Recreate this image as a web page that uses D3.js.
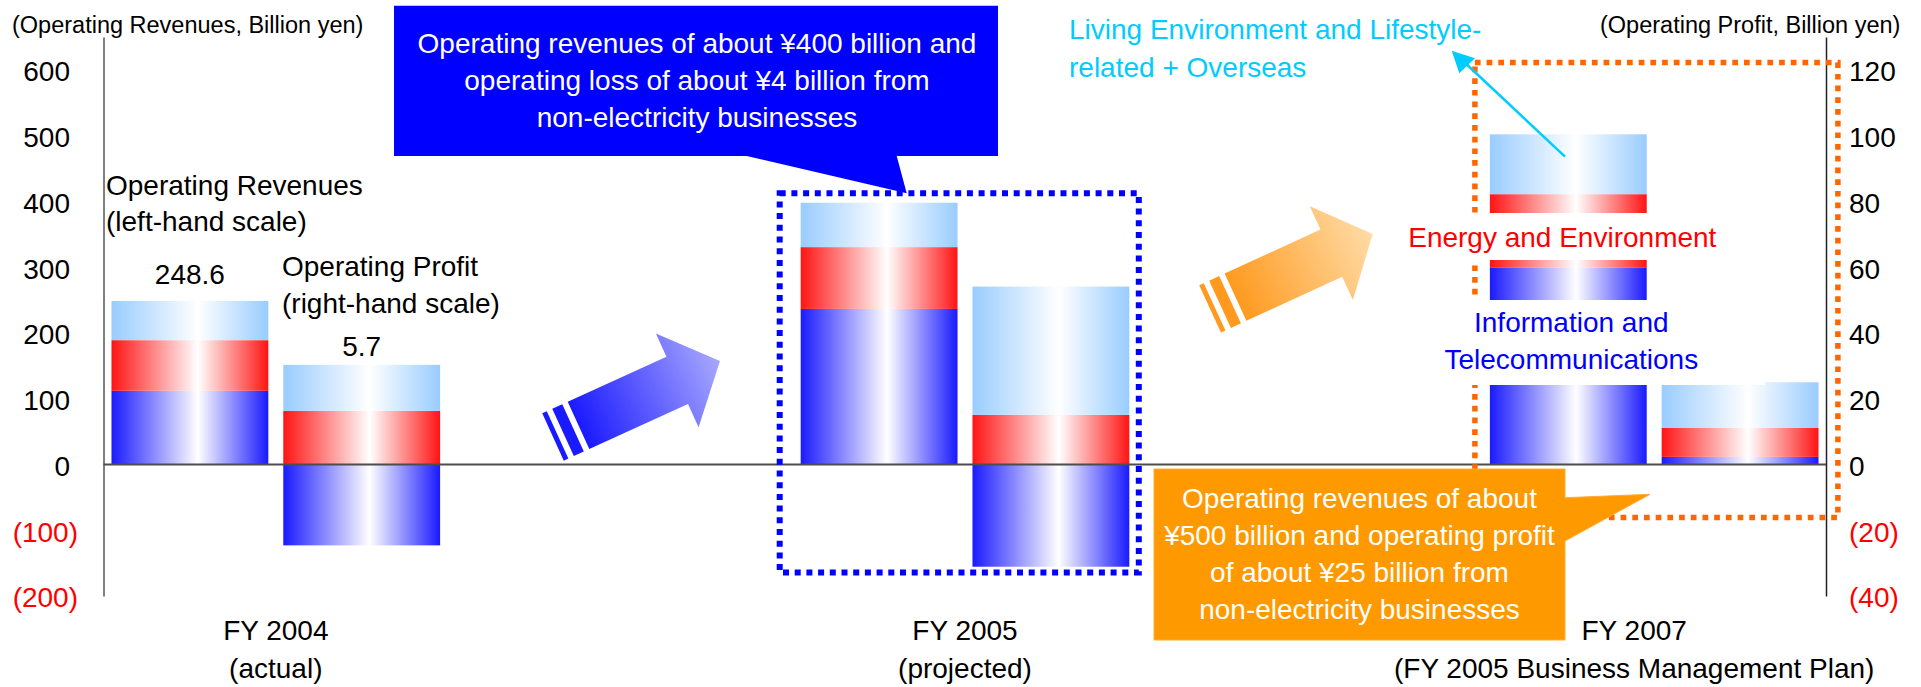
<!DOCTYPE html>
<html>
<head>
<meta charset="utf-8">
<script src="https://cdn.jsdelivr.net/npm/d3@7"></script>
<style>
body { margin: 0; background: #fff; }
svg { display: block; font-family: "Liberation Sans", Arial, sans-serif; }
</style>
</head>
<body>
<svg id="chart" width="1921" height="687"></svg>
<script>
// x slots: the empty ones keep the gaps between the three periods
var periods = ["FY2004", "gap1", "FY2005", "gap2", "FY2007"];
var periodLine1 = ["FY 2004", "", "FY 2005", "", "FY 2007"];
var periodLine2 = ["(actual)", "", "(projected)", "", "(FY 2005 Business Management Plan)"];
var groups = ["FY2004", "FY2005", "FY2007"];

// operating revenues, billion yen (left-hand scale)
var revInfo = [112.0, 236.5, 299.0];
var revEnergy = [77.0, 94.0, 112.0];
var revLiving = [59.6, 67.5, 91.0];

// operating profit, billion yen (right-hand scale)
var profInfo = [-24.6, -31.1, 2.3];
var profEnergy = [16.3, 15.1, 8.8];
var profLiving = [14.0, 39.0, 13.9];

var leftTicks = [-200, -100, 0, 100, 200, 300, 400, 500, 600];
var rightTicks = [-40, -20, 0, 20, 40, 60, 80, 100, 120];

var svg = d3.select("#chart");
var defs = svg.append("defs");

var x = d3.scaleBand().domain(periods).range([103.5, 1826.5]);
var xs = d3.scaleBand().domain(["rev", "prof"])
    .range([0, x.bandwidth()])
    .paddingInner(0.087)
    .paddingOuter(0.0465);
var yL = d3.scaleLinear().domain([-200, 650]).range([596, 37]);
var yR = d3.scaleLinear().domain([-40, 130]).range([596, 37]);

var keys = ["info", "energy", "living"];
var segColor = { info: "#1a1aff", energy: "#ff1414", living: "#99ccff" };

keys.forEach(function (k) {
    var gr = defs.append("linearGradient").attr("id", "g_" + k)
        .attr("x1", 0).attr("x2", 1).attr("y1", 0).attr("y2", 0);
    gr.append("stop").attr("offset", 0).attr("stop-color", segColor[k]);
    gr.append("stop").attr("offset", 0.55).attr("stop-color", "#fff");
    gr.append("stop").attr("offset", 1).attr("stop-color", segColor[k]);
});

var revRows = groups.map(function (g, i) {
    return { period: g, info: revInfo[i], energy: revEnergy[i], living: revLiving[i] };
});
var profRows = groups.map(function (g, i) {
    return { period: g, info: profInfo[i], energy: profEnergy[i], living: profLiving[i] };
});

var stack = d3.stack().keys(keys).offset(d3.stackOffsetDiverging);

function drawStack(rows, series, yScale) {
    svg.append("g")
        .selectAll("g")
        .data(stack(rows))
        .enter().append("g")
        .attr("fill", function (d) { return "url(#g_" + d.key + ")"; })
        .selectAll("rect")
        .data(function (d) { return d; })
        .enter().append("rect")
        .attr("x", function (d) { return x(d.data.period) + xs(series); })
        .attr("y", function (d) { return yScale(Math.max(d[0], d[1])); })
        .attr("width", xs.bandwidth())
        .attr("height", function (d) { return Math.abs(yScale(d[0]) - yScale(d[1])); });
}
drawStack(revRows, "rev", yL);
drawStack(profRows, "prof", yR);

// totals above the FY2004 bars
var fmt1 = d3.format(".1f");
var revTotal = revInfo[0] + revEnergy[0] + revLiving[0];
var profTop = profEnergy[0] + profLiving[0];
var profTotal = profInfo[0] + profEnergy[0] + profLiving[0];
svg.append("text")
    .attr("x", x("FY2004") + xs("rev") + xs.bandwidth() / 2)
    .attr("y", yL(revTotal) - 17)
    .attr("text-anchor", "middle").attr("font-size", 28)
    .text(fmt1(revTotal));
svg.append("text")
    .attr("x", x("FY2004") + xs("prof") + xs.bandwidth() / 2)
    .attr("y", yR(profTop) - 9)
    .attr("text-anchor", "middle").attr("font-size", 28)
    .text(fmt1(profTotal));

// axes
function tickText(v) { return v < 0 ? "(" + Math.abs(v) + ")" : String(v); }

var left = svg.append("g")
    .attr("transform", "translate(" + x.range()[0] + ",0)")
    .call(d3.axisLeft(yL).tickValues(leftTicks).tickSize(0).tickFormat(tickText));
left.select(".domain").attr("stroke", "#555").attr("stroke-width", 1.5);
left.selectAll("text")
    .attr("font-size", 28).attr("font-family", null)
    .attr("dy", "0.39em")
    .attr("x", function (d) { return d < 0 ? -25.5 : -33.5; })
    .attr("fill", function (d) { return d < 0 ? "#ff0000" : "#000"; });

var right = svg.append("g")
    .attr("transform", "translate(1826,0)")
    .call(d3.axisRight(yR).tickValues(rightTicks).tickSize(0).tickFormat(tickText));
right.select(".domain").attr("stroke", "#222").attr("stroke-width", 1.5);
right.selectAll("text")
    .attr("font-size", 28).attr("font-family", null)
    .attr("dy", "0.39em")
    .attr("x", 23)
    .attr("fill", function (d) { return d < 0 ? "#ff0000" : "#000"; });

svg.append("line")
    .attr("x1", x.range()[0]).attr("x2", 1826)
    .attr("y1", yL(0)).attr("y2", yL(0))
    .attr("stroke", "#4d4d4d").attr("stroke-width", 2);

svg.append("text").attr("x", 12).attr("y", 33).attr("font-size", 23.5)
    .text("(Operating Revenues, Billion yen)");
svg.append("text").attr("x", 1600).attr("y", 33).attr("font-size", 23.5)
    .text("(Operating Profit, Billion yen)");

// period labels
var cat = svg.append("g").attr("font-size", 28).attr("text-anchor", "middle");
periods.forEach(function (p, i) {
    if (!periodLine1[i]) return;
    var cx = x(p) + x.bandwidth() / 2 + (periodLine2[i].length > 20 ? -20 : 0);
    cat.append("text").attr("x", cx).attr("y", 640).text(periodLine1[i]);
    cat.append("text").attr("x", cx).attr("y", 678).text(periodLine2[i]);
});

// series notes
var note = svg.append("g").attr("font-size", 28);
note.append("text").attr("x", 106).attr("y", 194.5).text("Operating Revenues");
note.append("text").attr("x", 106).attr("y", 231).text("(left-hand scale)");
note.append("text").attr("x", 282).attr("y", 276).text("Operating Profit");
note.append("text").attr("x", 282).attr("y", 312.5).text("(right-hand scale)");

// dotted frames
var x05 = x("FY2005"), x07 = x("FY2007");
svg.append("rect")
    .attr("x", x05 - 13).attr("y", 193.3)
    .attr("width", x.bandwidth() + 14.5).attr("height", 379.2)
    .attr("fill", "none").attr("stroke", "#0000ff")
    .attr("stroke-width", 6).attr("stroke-dasharray", "6,5.7");
svg.append("rect")
    .attr("x", x07 - 7).attr("y", 62.5)
    .attr("width", 363).attr("height", 455)
    .attr("fill", "none").attr("stroke", "#ff6600")
    .attr("stroke-width", 5.5).attr("stroke-dasharray", "5.7,6");

// segment labels on the FY2007 bar (white boxes cut the bar)
var segX = x07 + xs("rev") + xs.bandwidth() / 2;
svg.append("rect").attr("x", segX - 170).attr("y", 213).attr("width", 335).attr("height", 47).attr("fill", "#fff");
svg.append("rect").attr("x", segX - 191).attr("y", 300).attr("width", 388).attr("height", 85).attr("fill", "#fff");
var seg = svg.append("g").attr("font-size", 28).attr("text-anchor", "middle");
seg.append("text").attr("x", segX - 6).attr("y", 246.5).attr("fill", "#ff0000").text("Energy and Environment");
seg.append("text").attr("x", segX + 3).attr("y", 332).attr("fill", "#0000ff").text("Information and");
seg.append("text").attr("x", segX + 3).attr("y", 369).attr("fill", "#0000ff").text("Telecommunications");

var cyan = svg.append("g").attr("font-size", 28).attr("fill", "#00ccff");
cyan.append("text").attr("x", 1069).attr("y", 39).text("Living Environment and Lifestyle-");
cyan.append("text").attr("x", 1069).attr("y", 76.5).text("related + Overseas");
svg.append("line")
    .attr("x1", 1565).attr("y1", 156.7).attr("x2", 1462).attr("y2", 60)
    .attr("stroke", "#00ccff").attr("stroke-width", 2.5);
svg.append("path")
    .attr("d", "M1451.7,50.7 L1459.3,73.3 L1475,58.3 Z")
    .attr("fill", "#00ccff");

// striped block arrows
function blockArrow(id, cx, cy, angle, shaft, tip, c0, c1) {
    var gr = defs.append("linearGradient").attr("id", id)
        .attr("gradientUnits", "userSpaceOnUse")
        .attr("x1", 0).attr("x2", tip).attr("y1", 0).attr("y2", 0);
    gr.append("stop").attr("offset", 0).attr("stop-color", c0);
    gr.append("stop").attr("offset", 1).attr("stop-color", c1);
    var a = svg.append("g").attr("transform", "translate(" + cx + "," + cy + ") rotate(" + angle + ")");
    a.append("path")
        .attr("d", "M0,-26 H" + shaft + " V-51.5 L" + tip + ",0 L" + shaft + ",51.5 V26 H0 Z")
        .attr("fill", "url(#" + id + ")");
    a.append("rect").attr("x", -17).attr("y", -26).attr("width", 11).attr("height", 52).attr("fill", c0);
    a.append("rect").attr("x", -28).attr("y", -26).attr("width", 5).attr("height", 52).attr("fill", c0);
}
blockArrow("arrowBlue", 578.5, 425.4, -24.5, 108.5, 155.5, "#1a1aff", "#a8a8ff");
blockArrow("arrowOrange", 1235.5, 297.2, -24.7, 105.5, 151, "#ff9a1f", "#ffdca8");

// callouts
svg.append("path")
    .attr("d", "M394,5.7 H998 V156 H896.7 L906.7,193.3 L746.7,156 H394 Z")
    .attr("fill", "#0000ff");
var bt = svg.append("g").attr("font-size", 28).attr("fill", "#fff").attr("text-anchor", "middle");
["Operating revenues of about \u00a5400 billion and",
 "operating loss of about \u00a54 billion from",
 "non-electricity businesses"].forEach(function (t, i) {
    bt.append("text").attr("x", 697).attr("y", 53 + i * 37).text(t);
});

svg.append("path")
    .attr("d", "M1154,469 H1565 V497.7 L1650,494.3 L1565,541 V640 H1154 Z")
    .attr("fill", "#ff9900").attr("stroke", "#ffad33").attr("stroke-width", 1);
var ot = svg.append("g").attr("font-size", 28).attr("fill", "#fff").attr("text-anchor", "middle");
["Operating revenues of about",
 "\u00a5500 billion and operating profit",
 "of about \u00a525 billion from",
 "non-electricity businesses"].forEach(function (t, i) {
    ot.append("text").attr("x", 1359.5).attr("y", 508.3 + i * 37).text(t);
});
</script>
</body>
</html>
